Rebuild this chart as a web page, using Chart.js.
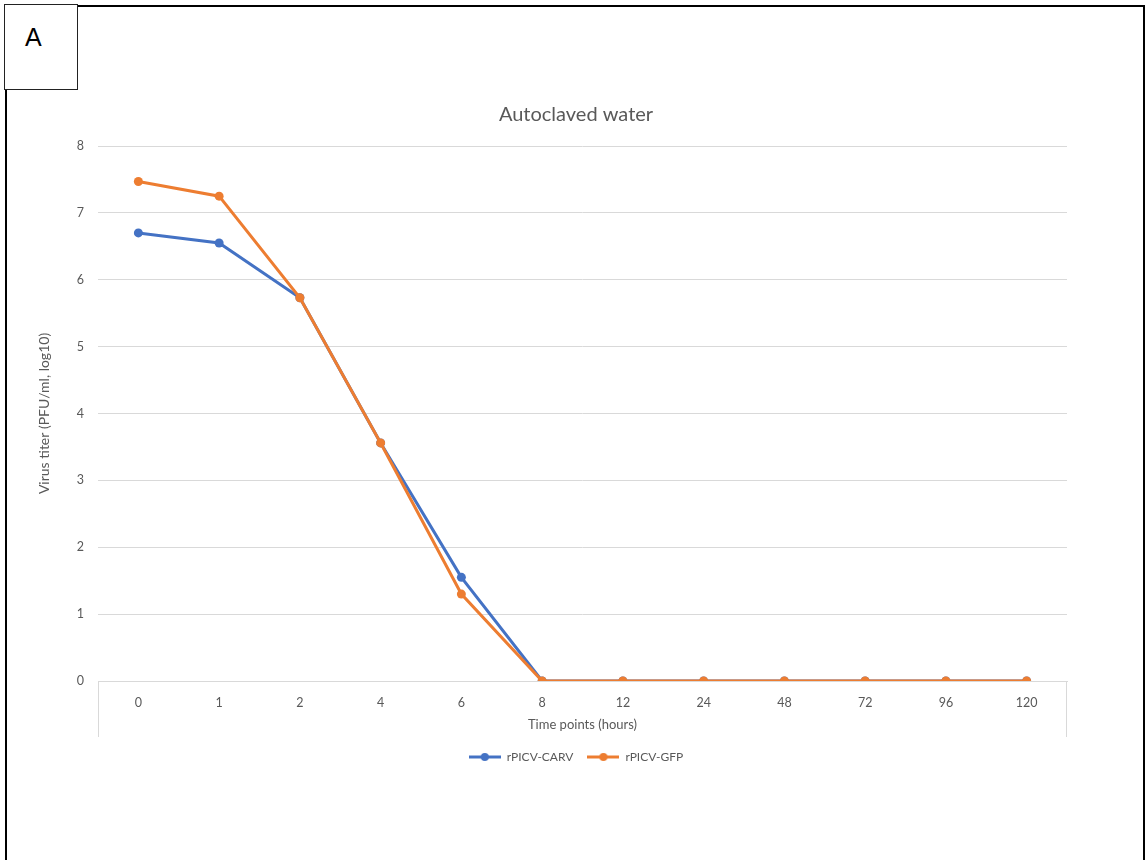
<!DOCTYPE html>
<html>
<head>
<meta charset="utf-8">
<title>Autoclaved water</title>
<script src="https://cdn.jsdelivr.net/npm/chart.js@4"></script>
<style>
  html, body { margin: 0; padding: 0; background: #fff; overflow: hidden; }
  #wrap { position: relative; width: 1146px; height: 860px; }
  #chart { position: absolute; left: 0; top: 0; }
  #frame {
    position: absolute; left: 5px; top: 5px; width: 1136px; height: 900px;
    border: 2px solid #000; border-bottom: none; pointer-events: none;
  }
  #panel {
    position: absolute; left: 4px; top: 4px; width: 72px; height: 84px;
    border: 1.5px solid #222; background: #fff;
    font-family: "Liberation Sans", Arial, sans-serif; font-size: 25px; color: #000;
  }
  #panel span { position: absolute; left: 20px; top: 18px; }
</style>
</head>
<body>
<div id="wrap">
  <canvas id="chart" width="1146" height="860"></canvas>
  <div id="frame"></div>
  <div id="panel"><span>A</span></div>
</div>
<script>
// Sampling times (hours) and log10 titres for the two viruses
const timePoints = ['0', '1', '2', '4', '6', '8', '12', '24', '48', '72', '96', '120'];
const carvTiter = [6.70, 6.55, 5.73, 3.56, 1.55, 0, 0, 0, 0, 0, 0, 0];
const gfpTiter  = [7.47, 7.25, 5.73, 3.56, 1.30, 0, 0, 0, 0, 0, 0, 0];
const yTicks = [0, 1, 2, 3, 4, 5, 6, 7, 8];

const BLUE = '#4472C4';
const ORANGE = '#ED7D31';
const TEXT = '#595959';
const GRID = '#D9D9D9';
const FONT = 'Lato, "Open Sans", sans-serif';

// Legend swatch: short line with a marker in the middle
function swatch(color) {
  const c = document.createElement('canvas');
  c.width = 32; c.height = 10;
  const g = c.getContext('2d');
  g.strokeStyle = color; g.lineWidth = 3;
  g.beginPath(); g.moveTo(0, 5); g.lineTo(32, 5); g.stroke();
  g.fillStyle = color;
  g.beginPath(); g.arc(16, 5, 4, 0, Math.PI * 2); g.fill();
  return c;
}

// Short vertical rules at both ends of the category axis
const axisEnds = {
  id: 'axisEnds',
  afterDraw(chart) {
    const x = chart.scales.x;
    const ctx = chart.ctx;
    ctx.save();
    ctx.strokeStyle = GRID; ctx.lineWidth = 1;
    ctx.beginPath();
    ctx.moveTo(Math.round(x.left) + 0.5, x.top);
    ctx.lineTo(Math.round(x.left) + 0.5, x.bottom);
    ctx.moveTo(Math.round(x.right) - 0.5, x.top);
    ctx.lineTo(Math.round(x.right) - 0.5, x.bottom);
    ctx.stroke();
    ctx.restore();
  }
};

// GFP series is drawn above CARV (lower order = on top)
const datasets = [
  { label: 'rPICV-CARV', data: carvTiter, color: BLUE, order: 1 },
  { label: 'rPICV-GFP', data: gfpTiter, color: ORANGE, order: 0 }
].map(s => ({
  label: s.label,
  data: s.data,
  order: s.order,
  borderColor: s.color,
  backgroundColor: s.color,
  borderWidth: 3,
  pointRadius: 4.5,
  pointBackgroundColor: s.color,
  pointBorderWidth: 0,
  tension: 0
}));

new Chart(document.getElementById('chart'), {
  type: 'line',
  data: { labels: timePoints, datasets },
  plugins: [axisEnds],
  options: {
    responsive: false,
    animation: false,
    devicePixelRatio: 1,
    layout: { padding: { left: 33, right: 27, top: 92, bottom: 87 } },
    plugins: {
      title: {
        display: true,
        text: 'Autoclaved water',
        color: TEXT,
        font: { family: FONT, size: 20, weight: 'normal' },
        padding: { top: 11, bottom: 19 }
      },
      legend: {
        position: 'bottom',
        labels: {
          usePointStyle: true,
          pointStyleWidth: 32,
          padding: 14,
          color: TEXT,
          font: { family: FONT, size: 12 },
          generateLabels(chart) {
            return chart.data.datasets.map((d, i) => ({
              text: d.label,
              pointStyle: swatch(d.borderColor),
              fillStyle: d.borderColor,
              strokeStyle: d.borderColor,
              lineWidth: 0,
              fontColor: TEXT,
              datasetIndex: i,
              hidden: false
            }));
          }
        }
      },
      tooltip: { enabled: false }
    },
    scales: {
      x: {
        offset: true,
        grid: { display: false },
        border: { display: true, color: GRID, width: 1 },
        ticks: { color: TEXT, font: { family: FONT, size: 12.5 }, padding: 6, maxRotation: 0 },
        title: {
          display: true,
          text: 'Time points (hours)',
          color: TEXT,
          font: { family: FONT, size: 13 },
          padding: { top: 4, bottom: 4 }
        },
        afterFit(scale) { scale.height = 56; }
      },
      y: {
        min: 0,
        max: 8,
        afterBuildTicks(scale) { scale.ticks = yTicks.map(v => ({ value: v })); },
        grid: { color: GRID, lineWidth: 1, drawTicks: false },
        border: { display: false },
        ticks: { color: TEXT, font: { family: FONT, size: 12.5 }, padding: 14 },
        title: {
          display: true,
          text: 'Virus titer (PFU/ml, log10)',
          color: TEXT,
          font: { family: FONT, size: 14 },
          padding: { top: 3, bottom: 4 }
        },
        afterFit(scale) { scale.width = 65; }
      },
      yRight: {
        position: 'right',
        display: true,
        grid: { display: false },
        border: { display: false },
        ticks: { display: false },
        afterFit(scale) { scale.width = 52; }
      }
    }
  }
});
</script>
</body>
</html>
